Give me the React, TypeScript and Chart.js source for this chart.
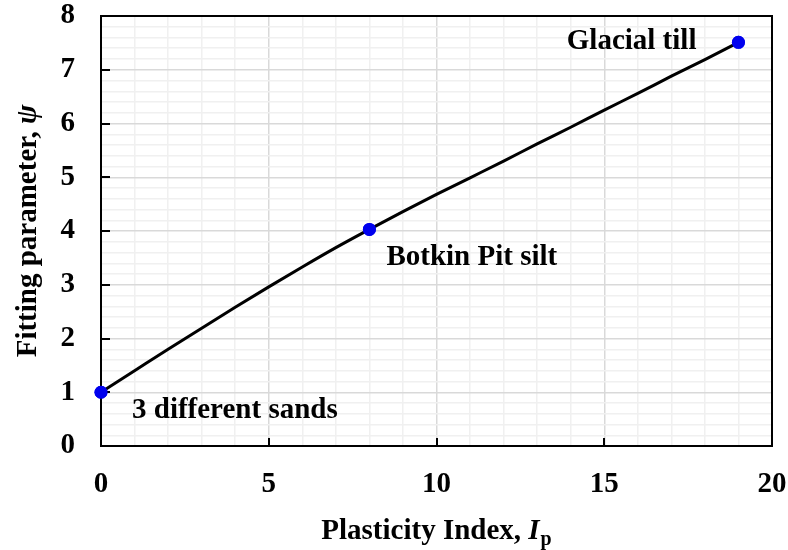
import React, { useEffect, useRef } from "react";
import { Chart, registerables } from "chart.js";

Chart.register(...registerables);

const curveX = [0, 1, 2, 3, 4, 5, 6, 7, 8, 9, 10, 11, 12, 13, 14, 15, 16, 17, 18, 19];
const curveY = [1.0, 1.4, 1.8, 2.19, 2.58, 2.96, 3.33, 3.69, 4.03, 4.36, 4.68, 4.99, 5.3, 5.62, 5.93, 6.25, 6.56, 6.88, 7.19, 7.51];
const pointX = [0, 8, 19];
const pointY = [1.0, 4.03, 7.51];
const pointLabels = ["3 different sands", "Botkin Pit silt", "Glacial till"];
const xTitle = "Plasticity Index, ";
const xTitleSym = "I";
const xTitleSub = "p";
const yTitle = "Fitting parameter, ";
const yTitleSym = "ψ";

const FONT = "'Liberation Serif', 'Times New Roman', serif";
const FS = 29;

export default function App() {
  const ref = useRef<HTMLCanvasElement | null>(null);

  useEffect(() => {
    document.body.style.margin = "0";
    const canvas = ref.current!;
    const overlay = {
      id: "overlay",
      afterDraw(chart: any) {
        const ctx = chart.ctx;
        const xs = chart.scales.x;
        const ys = chart.scales.y;
        const { left, right, top, bottom } = chart.chartArea;
        ctx.save();
        ctx.strokeStyle = "#000";
        ctx.lineWidth = 2;
        for (let v = 1; v <= 7; v++) {
          const py = Math.round(ys.getPixelForValue(v));
          ctx.beginPath();
          ctx.moveTo(left, py);
          ctx.lineTo(left + 9, py);
          ctx.stroke();
        }
        for (let v = 5; v <= 15; v += 5) {
          const px = Math.round(xs.getPixelForValue(v));
          ctx.beginPath();
          ctx.moveTo(px, bottom);
          ctx.lineTo(px, bottom - 8);
          ctx.stroke();
        }
        ctx.lineWidth = 2;
        ctx.strokeRect(left, top, right - left, bottom - top);

        const meta = chart.getDatasetMeta(0);
        ctx.fillStyle = "#0000ee";
        meta.data.forEach((el: any) => {
          ctx.beginPath();
          ctx.arc(el.x, el.y, 6.5, 0, Math.PI * 2);
          ctx.fill();
        });

        ctx.fillStyle = "#000";
        ctx.font = `bold ${FS}px ${FONT}`;
        ctx.textBaseline = "alphabetic";
        const p0x = xs.getPixelForValue(pointX[0]);
        const p0y = ys.getPixelForValue(pointY[0]);
        ctx.textAlign = "left";
        ctx.fillText(pointLabels[0], p0x + 31, p0y + 26);
        const p1x = xs.getPixelForValue(pointX[1]);
        const p1y = ys.getPixelForValue(pointY[1]);
        ctx.fillText(pointLabels[1], p1x + 17, p1y + 36);
        const p2x = xs.getPixelForValue(pointX[2]);
        const p2y = ys.getPixelForValue(pointY[2]);
        ctx.textAlign = "right";
        ctx.fillText(pointLabels[2], p2x - 42, p2y + 7);

        ctx.textAlign = "left";
        const fN = `bold ${FS}px ${FONT}`;
        const fI = `italic bold ${FS}px ${FONT}`;
        const fS = `bold ${Math.round(FS * 0.68)}px ${FONT}`;
        ctx.font = fN;
        const w1 = ctx.measureText(xTitle).width;
        ctx.font = fI;
        const w2 = ctx.measureText(xTitleSym).width;
        ctx.font = fS;
        const w3 = ctx.measureText(xTitleSub).width;
        const total = w1 + w2 + w3 + 1;
        const sx = (left + right) / 2 - total / 2;
        const by = 539;
        ctx.font = fN;
        ctx.fillText(xTitle, sx, by);
        ctx.font = fI;
        ctx.fillText(xTitleSym, sx + w1, by);
        ctx.font = fS;
        ctx.fillText(xTitleSub, sx + w1 + w2 + 1, by + 6);

        ctx.save();
        ctx.translate(36, (top + bottom) / 2);
        ctx.rotate(-Math.PI / 2);
        ctx.font = fN;
        const v1 = ctx.measureText(yTitle).width;
        ctx.font = fI;
        const v2 = ctx.measureText(yTitleSym).width;
        const vt = v1 + v2;
        ctx.font = fN;
        ctx.fillText(yTitle, -vt / 2, 0);
        ctx.font = fI;
        ctx.fillText(yTitleSym, -vt / 2 + v1, 0);
        ctx.restore();
        ctx.restore();
      },
    };

    const isInt = (v: number) => Math.abs(v - Math.round(v)) < 1e-6;
    const zeroPad = (s: any) => {
      s.paddingLeft = 0;
      s.paddingRight = 0;
      s.paddingTop = 0;
      s.paddingBottom = 0;
    };

    const chart = new Chart(canvas, {
      type: "scatter",
      data: {
        datasets: [
          {
            data: pointX.map((x, i) => ({ x, y: pointY[i] })),
            showLine: false,
            pointRadius: 6.5,
            pointBackgroundColor: "#0000ee",
            pointBorderColor: "#0000ee",
            pointBorderWidth: 0,
            clip: false,
          },
          {
            data: curveX.map((x, i) => ({ x, y: curveY[i] })),
            showLine: true,
            borderColor: "#000",
            borderWidth: 3,
            pointRadius: 0,
            cubicInterpolationMode: "monotone",
            clip: false,
          },
        ],
      },
      options: {
        responsive: false,
        animation: false,
        devicePixelRatio: 1,
        layout: { padding: { left: 0, top: 16, right: 16, bottom: 0 } },
        plugins: { legend: { display: false }, tooltip: { enabled: false } },
        scales: {
          x: {
            type: "linear",
            min: 0,
            max: 20,
            afterFit: (s: any) => {
              s.height = 104;
              zeroPad(s);
            },
            border: { display: false },
            grid: {
              drawTicks: false,
              color: (c: any) => (c.tick && Math.round(c.tick.value) % 5 === 0 ? "#d9d9d9" : "#f0f0f0"),
              lineWidth: 1.5,
            },
            ticks: {
              stepSize: 1,
              autoSkip: false,
              maxRotation: 0,
              padding: 21,
              color: "#000",
              font: { family: FONT, size: FS, weight: "bold" },
              callback: (v: any) => (Math.round(v) % 5 === 0 ? String(Math.round(v)) : ""),
            },
          },
          y: {
            type: "linear",
            min: 0,
            max: 8,
            afterFit: (s: any) => {
              s.width = 101;
              zeroPad(s);
            },
            border: { display: false },
            grid: {
              drawTicks: false,
              color: (c: any) => (c.tick && isInt(c.tick.value) ? "#d9d9d9" : "#f0f0f0"),
              lineWidth: 1.5,
            },
            ticks: {
              stepSize: 0.2,
              autoSkip: false,
              padding: 26,
              color: "#000",
              font: { family: FONT, size: FS, weight: "bold" },
              callback: (v: any) => (isInt(v) ? String(Math.round(v)) : ""),
            },
          },
        },
      },
      plugins: [overlay],
    } as any);
    return () => chart.destroy();
  }, []);

  return (
    <div style={{ width: 788, height: 550 }}>
      <canvas ref={ref} width={788} height={550} style={{ display: "block" }} />
    </div>
  );
}
